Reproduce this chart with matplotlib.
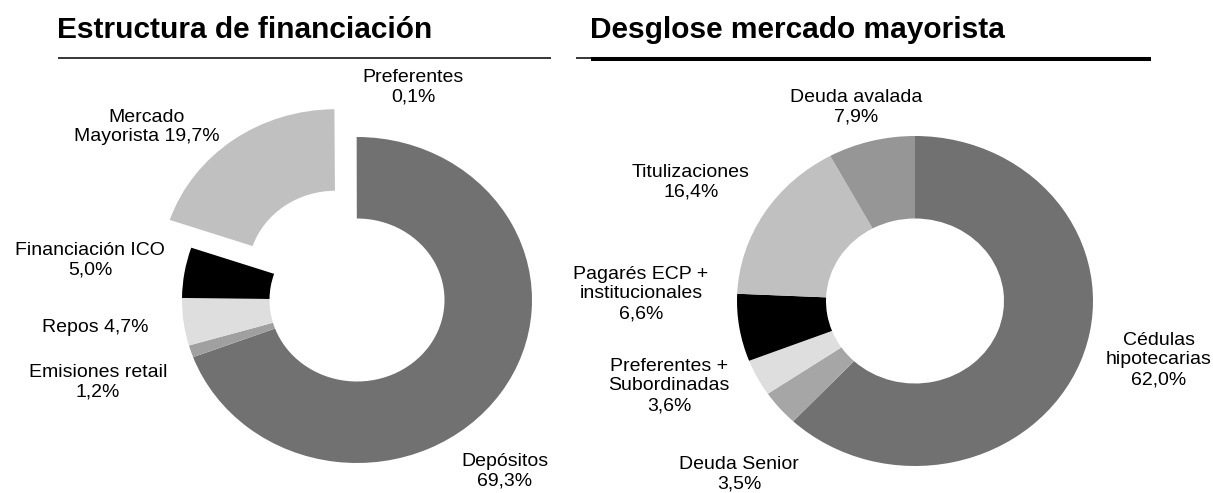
import matplotlib
matplotlib.use("Agg")
import matplotlib.pyplot as plt
from matplotlib.lines import Line2D

W, H = 1213, 493
plt.rcParams['font.family'] = ['Liberation Sans', 'DejaVu Sans']

# ---------------- data ----------------
left_title = "Estructura de financiación"
left_labels = ["Depósitos\n69,3%", "Emisiones retail\n1,2%", "Repos 4,7%",
               "Financiación ICO\n5,0%", "Mercado\nMayorista 19,7%", "Preferentes\n0,1%"]
left_values = [69.3, 1.2, 4.7, 5.0, 19.7, 0.1]
left_colors = ["#717171", "#a0a0a0", "#dedede", "#000000", "#c0c0c0", "#d0d0d0"]
left_explode = [0, 0, 0, 0, 0.21, 0]

right_title = "Desglose mercado mayorista"
right_labels = ["Cédulas\nhipotecarias\n62,0%", "Deuda Senior\n3,5%",
                "Preferentes +\nSubordinadas\n3,6%", "Pagarés ECP +\ninstitucionales\n6,6%",
                "Titulizaciones\n16,4%", "Deuda avalada\n7,9%"]
right_values = [62.0, 3.5, 3.6, 6.6, 16.4, 7.9]
right_colors = ["#717171", "#a6a6a6", "#dedede", "#000000", "#c0c0c0", "#969696"]

# label positions (pixels from top-left)
left_label_pos = [(505, 471), (98, 382), (95, 327), (90, 260), (147, 127), (413, 87)]
right_label_pos = [(1159, 360), (739, 474), (669, 386), (641, 294), (691, 182), (856, 107)]

fig = plt.figure(figsize=(W / 100, H / 100), dpi=100)


def donut(px0, px1, cx, cy, rh, rv, values, colors, explode=None):
    ax = fig.add_axes([px0 / W, 0, (px1 - px0) / W, 1])
    ax.pie(values, colors=colors, startangle=90, counterclock=False,
           explode=explode, radius=1.0,
           wedgeprops=dict(width=0.5, edgecolor='none', linewidth=0))
    ax.set_aspect('auto')
    ax.set_xlim((px0 - cx) / rh, (px1 - cx) / rh)
    ax.set_ylim((cy - H) / rv, cy / rv)
    ax.axis('off')
    return ax


donut(0, 600, 357, 300, 175, 163, left_values, left_colors, left_explode)
donut(600, W, 915, 301, 178, 165, right_values, right_colors)

def ftext(x, y, s, **kw):
    fig.text(x / W, 1 - y / H, s, **kw)

for lab, (x, y) in zip(left_labels, left_label_pos):
    ftext(x, y, lab, ha='center', va='center', fontsize=14, multialignment='center', color='#000000')
for lab, (x, y) in zip(right_labels, right_label_pos):
    ftext(x, y, lab, ha='center', va='center', fontsize=14, multialignment='center', color='#000000')

ftext(57, 30, left_title, ha='left', va='center', fontsize=21.5, fontweight='bold')
ftext(590, 30, right_title, ha='left', va='center', fontsize=21.5, fontweight='bold')

def fline(x0, x1, y, lw):
    fig.add_artist(Line2D([x0 / W, x1 / W], [1 - y / H, 1 - y / H], color='black',
                          linewidth=lw, transform=fig.transFigure, solid_capstyle='butt'))

fline(58, 551, 57.5, 1.1)
fline(576, 591, 57.5, 1.1)
fline(591, 1151, 59, 2.9)

fig.savefig("out.png", dpi=100)
